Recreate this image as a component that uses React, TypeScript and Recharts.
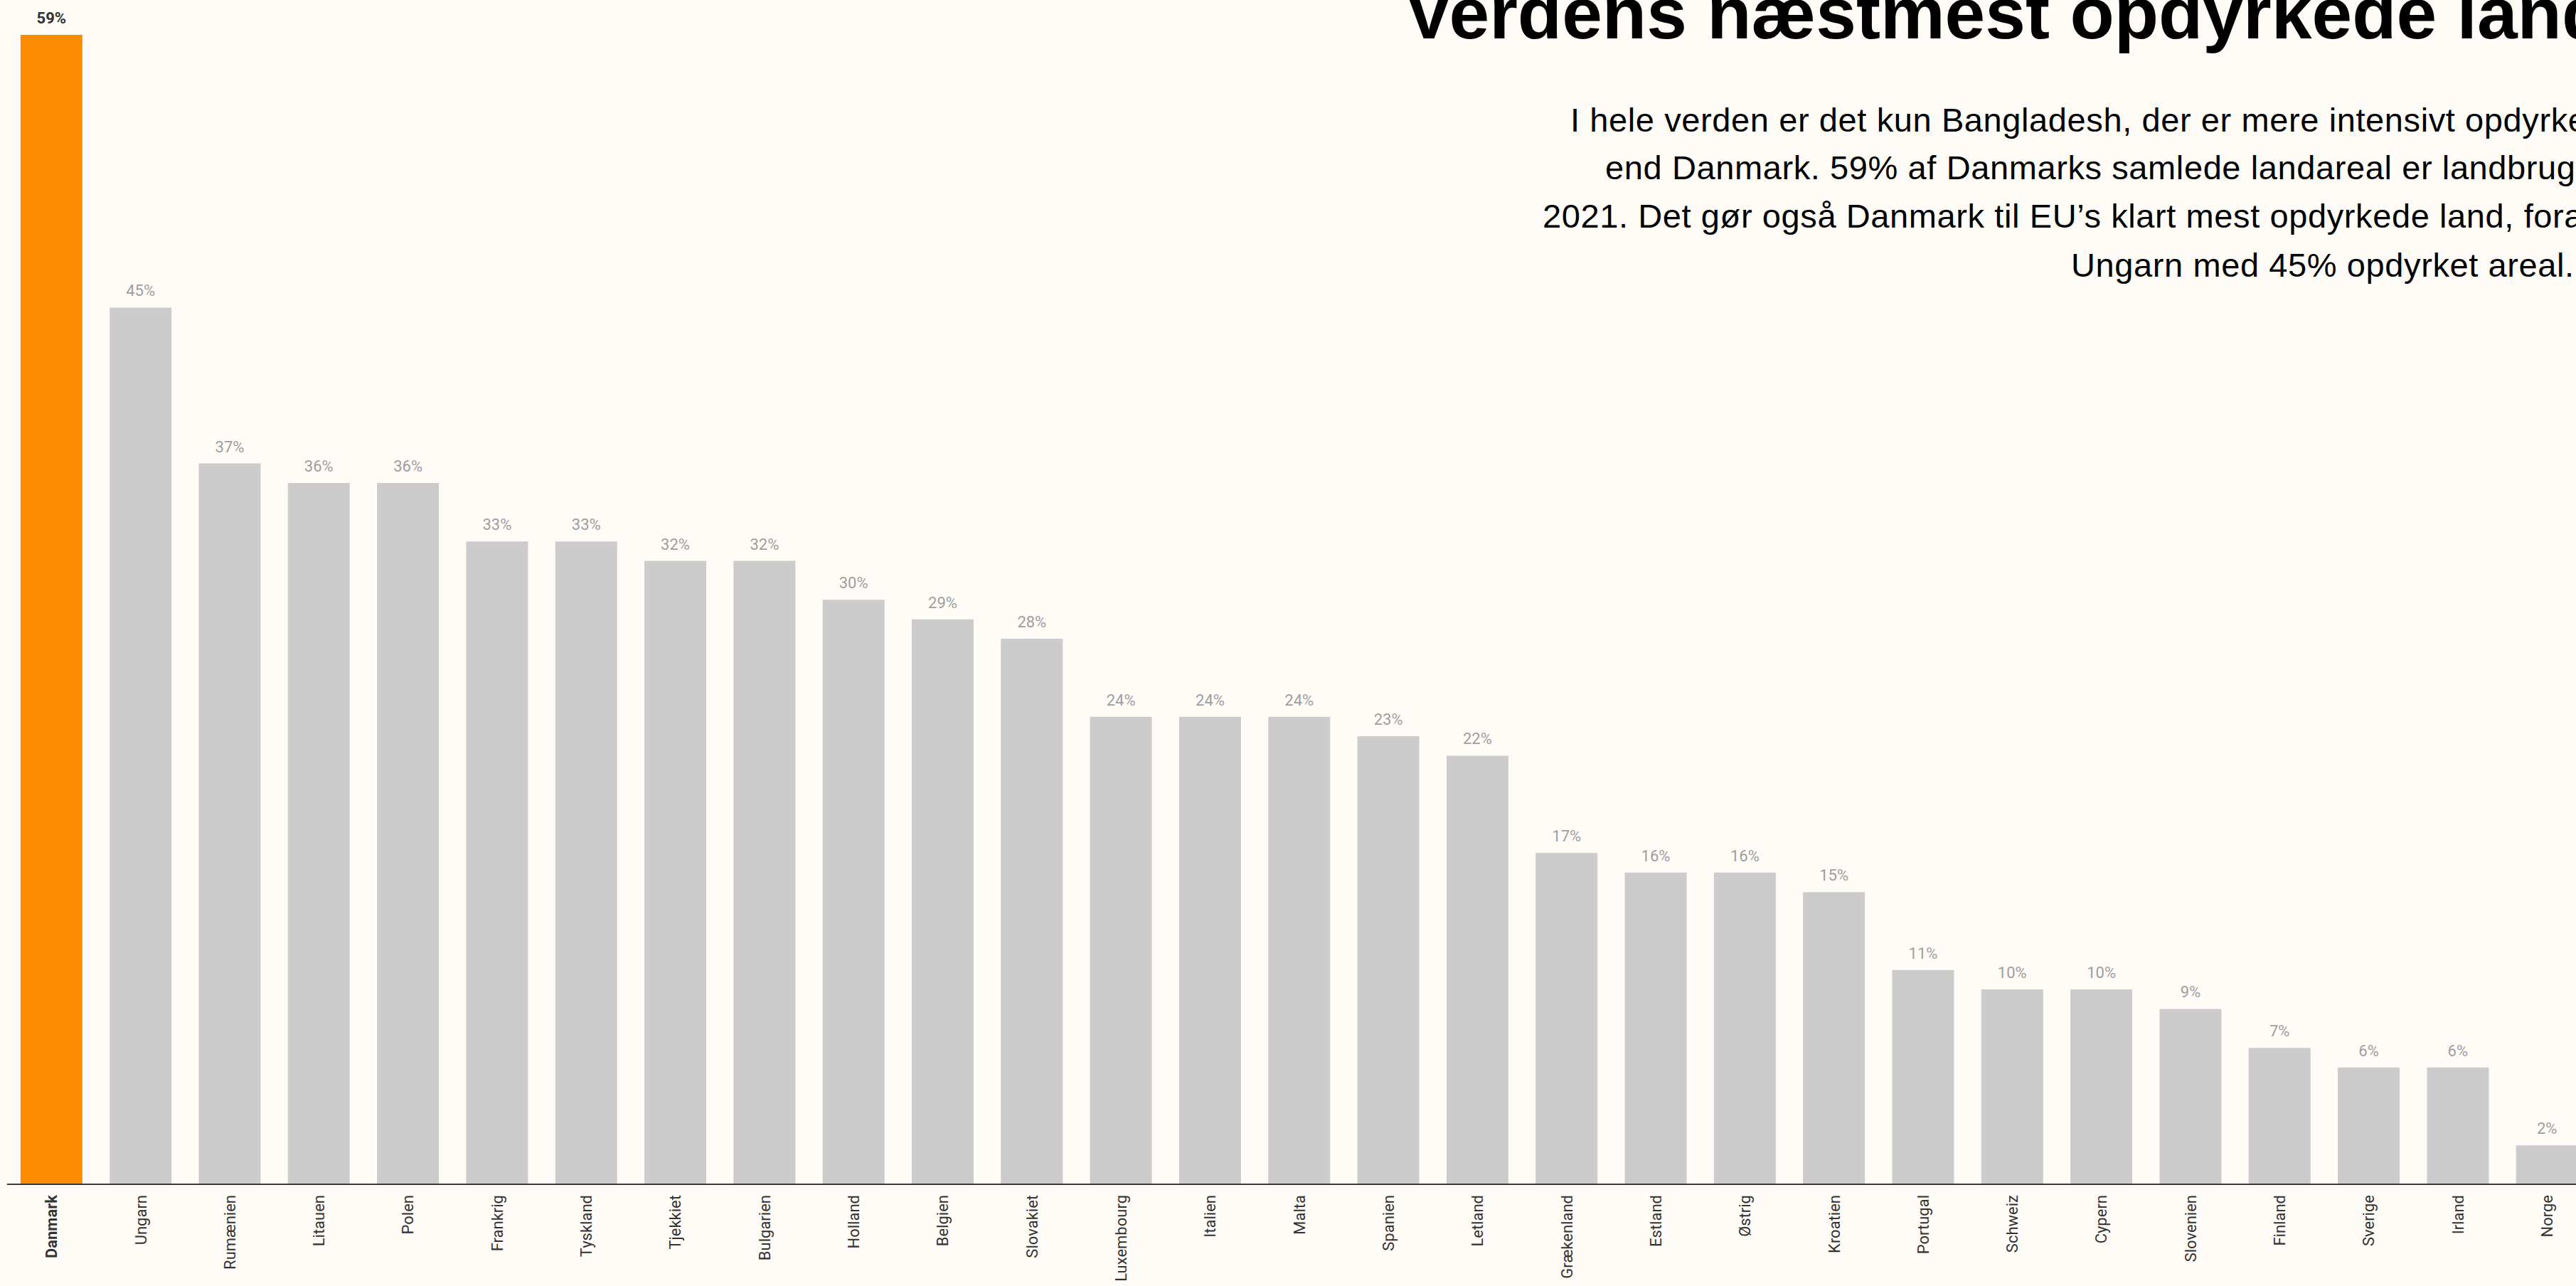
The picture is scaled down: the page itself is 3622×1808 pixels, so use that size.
import React from 'react';
import { BarChart, Bar, XAxis, YAxis, Cell, LabelList } from 'recharts';

const countries = [
  'Danmark', 'Ungarn', 'Rumænien', 'Litauen', 'Polen', 'Frankrig', 'Tyskland', 'Tjekkiet',
  'Bulgarien', 'Holland', 'Belgien', 'Slovakiet', 'Luxembourg', 'Italien', 'Malta', 'Spanien',
  'Letland', 'Grækenland', 'Estland', 'Østrig', 'Kroatien', 'Portugal', 'Schweiz', 'Cypern',
  'Slovenien', 'Finland', 'Sverige', 'Irland', 'Norge',
];

// share of land area that is cultivated, %
const shares = [59, 45, 37, 36, 36, 33, 33, 32, 32, 30, 29, 28, 24, 24, 24, 23, 22, 17, 16, 16, 15, 11, 10, 10, 9, 7, 6, 6, 2];

const highlight = 'Danmark';

const title = 'Verdens næstmest opdyrkede land';
const introLines = [
  'I hele verden er det kun Bangladesh, der er mere intensivt opdyrket',
  'end Danmark. 59% af Danmarks samlede landareal er landbrugsjord i',
  '2021. Det gør også Danmark til EU’s klart mest opdyrkede land, foran',
  'Ungarn med 45% opdyrket areal.',
];

const data = countries.map((name, i) => ({ name, value: shares[i] }));

const BG = '#fffcf7';
const ORANGE = '#fb8c00';
const GREY = '#cccccc';

const CountryTick = (props: any) => {
  const { x, y, payload } = props;
  const bold = payload.value === highlight;
  const ty = y + 7;
  return (
    <text
      x={x}
      y={ty}
      dy="0.35em"
      transform={`rotate(-90 ${x} ${ty})`}
      textAnchor="end"
      fontFamily="Roboto"
      fontSize={22}
      fontWeight={bold ? 700 : 400}
      fill="#333"
    >
      {payload.value}
    </text>
  );
};

const ValueLabel = (props: any) => {
  const { x, y, width, value, index } = props;
  const hi = countries[index] === highlight;
  return (
    <text
      x={x + width / 2}
      y={y - 16}
      textAnchor="middle"
      fontFamily="Roboto"
      fontSize={22}
      fontWeight={hi ? 700 : 400}
      fill={hi ? '#333' : '#9e9e9e'}
    >
      {value}%
    </text>
  );
};

const introStyle = { fontFamily: 'Liberation Sans', fontSize: 47, letterSpacing: 0.6, fill: '#000' };

export default function App() {
  return (
    <div style={{ position: 'fixed', left: 0, top: 0, width: 3622, height: 1808, overflow: 'hidden', background: BG }}>
      <div style={{ position: 'absolute', left: 0, top: 0 }}>
        <BarChart width={3644} height={1808} data={data} margin={{ top: 49, right: 0, bottom: 0, left: 9.84 }}>
          <XAxis
            dataKey="name"
            interval={0}
            height={143}
            tickLine={false}
            axisLine={{ stroke: '#3a3a3a', strokeWidth: 2 }}
            tick={<CountryTick />}
          />
          <YAxis hide domain={[0, 59]} />
          <Bar dataKey="value" barSize={87} isAnimationActive={false}>
            {data.map((d) => (
              <Cell key={d.name} fill={d.name === highlight ? ORANGE : GREY} />
            ))}
            <LabelList dataKey="value" content={<ValueLabel />} />
          </Bar>
        </BarChart>
      </div>
      <svg width={3622} height={420} style={{ position: 'absolute', left: 0, top: 0, pointerEvents: 'none' }}>
        <text x={1975} y={54} fontFamily="Liberation Sans" fontWeight={700} fontSize={102} fill="#000">
          {title}
        </text>
        <text x={2208} y={185} {...introStyle}>{introLines[0]}</text>
        <text x={2257} y={252} {...introStyle}>{introLines[1]}</text>
        <text x={2169} y={320} {...introStyle}>{introLines[2]}</text>
        <text x={2912} y={389} {...introStyle}>{introLines[3]}</text>
      </svg>
    </div>
  );
}
